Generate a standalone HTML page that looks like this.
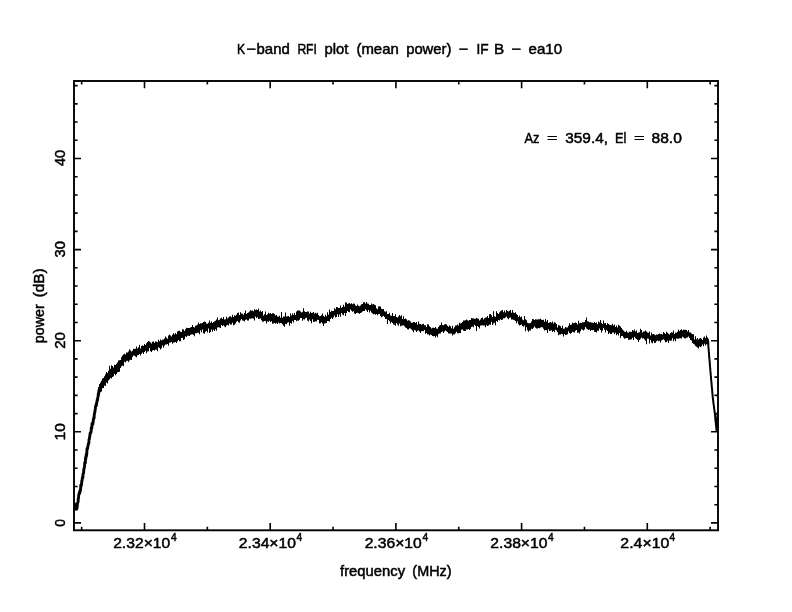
<!DOCTYPE html>
<html><head><meta charset="utf-8"><title>K-band RFI plot</title>
<style>html,body{margin:0;padding:0;background:#fff;overflow:hidden}svg{display:block}text{font-family:"Liberation Sans","DejaVu Sans",sans-serif;fill:#000;stroke:#000;stroke-width:0.5px}</style>
</head><body>
<svg width="792" height="612" viewBox="0 0 792 612">
<rect width="792" height="612" fill="#fff"/>
<polyline fill="none" stroke="#000" stroke-width="2.9" stroke-linejoin="round" points="74.30,504.5 74.55,504.9 74.80,504.4 75.05,504.1 75.30,505.3 75.55,505.1 75.80,507.1 76.05,509.3 76.30,507.5 76.55,507.9 76.80,509.1 77.05,507.5 77.30,505.7 77.55,502.9 77.80,502.7 78.05,502.2 78.30,498.1 78.55,497.8 78.80,494.5 79.05,494.3 79.30,492.5 79.55,493.5 79.80,491.1 80.05,492.0 80.30,490.8 80.55,489.3 80.80,485.2 81.05,486.4 81.30,485.5 81.55,484.2 81.80,480.6 82.05,480.5 82.30,478.3 82.55,477.0 82.80,478.0 83.05,474.0 83.30,473.5 83.55,473.1 83.80,469.7 84.05,468.7 84.30,467.5 84.55,465.9 84.80,462.6 85.05,462.8 85.30,462.9 85.55,457.6 85.80,459.2 86.05,456.7 86.30,454.1 86.55,456.0 86.80,452.8 87.05,448.8 87.30,449.1 87.55,448.5 87.80,446.3 88.05,446.1 88.30,443.9 88.55,443.6 88.80,443.4 89.05,439.4 89.30,439.3 89.55,437.1 89.80,436.7 90.05,433.7 90.30,433.2 90.55,432.6 90.80,432.9 91.05,432.1 91.30,427.8 91.55,427.3 91.80,428.1 92.05,423.5 92.30,424.4 92.55,423.7 92.80,424.3 93.05,422.5 93.30,420.0 93.55,418.7 93.80,417.4 94.05,418.3 94.30,414.4 94.55,413.1 94.80,412.5 95.05,410.5 95.30,409.0 95.55,406.4 95.80,406.5 96.05,404.8 96.30,405.8 96.55,404.0 96.80,402.0 97.05,401.7 97.30,399.3 97.55,400.0 97.80,397.4 98.05,397.2 98.30,393.8 98.55,395.0 98.80,391.5 99.05,390.1 99.30,391.4 99.55,389.7 99.80,390.2"/>
<polygon fill="#000" points="97,393.1 98,393.1 98,387.0 99,387.0 99,383.9 100,383.9 100,382.5 101,382.5 101,380.8 102,380.8 102,378.5 103,378.5 103,378.0 104,378.0 104,376.2 105,376.2 105,374.3 106,374.3 106,372.1 107,372.1 107,373.0 108,373.0 108,370.7 109,370.7 109,365.8 110,365.8 110,368.8 111,368.8 111,365.3 112,365.3 112,366.0 113,366.0 113,367.5 114,367.5 114,364.7 115,364.7 115,365.1 116,365.1 116,363.7 117,363.7 117,362.6 118,362.6 118,360.6 119,360.6 119,360.2 120,360.2 120,359.9 121,359.9 121,357.3 122,357.3 122,355.5 123,355.5 123,354.6 124,354.6 124,353.7 125,353.7 125,354.4 126,354.4 126,352.4 127,352.4 127,352.6 128,352.6 128,351.6 129,351.6 129,349.2 130,349.2 130,350.6 131,350.6 131,351.6 132,351.6 132,350.6 133,350.6 133,348.7 134,348.7 134,349.0 135,349.0 135,348.8 136,348.8 136,346.5 137,346.5 137,348.6 138,348.6 138,347.3 139,347.3 139,344.7 140,344.7 140,348.5 141,348.5 141,346.0 142,346.0 142,345.3 143,345.3 143,345.9 144,345.9 144,344.0 145,344.0 145,344.9 146,344.9 146,343.3 147,343.3 147,342.1 148,342.1 148,341.1 149,341.1 149,341.6 150,341.6 150,342.3 151,342.3 151,343.5 152,343.5 152,341.8 153,341.8 153,341.6 154,341.6 154,342.7 155,342.7 155,341.5 156,341.5 156,341.5 157,341.5 157,342.2 158,342.2 158,339.8 159,339.8 159,341.2 160,341.2 160,339.5 161,339.5 161,340.3 162,340.3 162,339.7 163,339.7 163,339.4 164,339.4 164,338.4 165,338.4 165,336.4 166,336.4 166,337.7 167,337.7 167,338.8 168,338.8 168,335.6 169,335.6 169,334.6 170,334.6 170,335.6 171,335.6 171,336.6 172,336.6 172,334.4 173,334.4 173,333.2 174,333.2 174,334.5 175,334.5 175,332.9 176,332.9 176,334.2 177,334.2 177,331.5 178,331.5 178,330.7 179,330.7 179,330.8 180,330.8 180,331.8 181,331.8 181,331.9 182,331.9 182,329.3 183,329.3 183,329.4 184,329.4 184,330.9 185,330.9 185,329.3 186,329.3 186,327.8 187,327.8 187,328.0 188,328.0 188,327.9 189,327.9 189,328.0 190,328.0 190,327.6 191,327.6 191,327.1 192,327.1 192,324.9 193,324.9 193,326.9 194,326.9 194,327.6 195,327.6 195,325.7 196,325.7 196,325.4 197,325.4 197,324.5 198,324.5 198,322.4 199,322.4 199,324.0 200,324.0 200,323.2 201,323.2 201,323.4 202,323.4 202,323.0 203,323.0 203,322.1 204,322.1 204,321.4 205,321.4 205,321.9 206,321.9 206,323.6 207,323.6 207,323.7 208,323.7 208,322.7 209,322.7 209,320.5 210,320.5 210,322.7 211,322.7 211,321.5 212,321.5 212,322.9 213,322.9 213,322.1 214,322.1 214,321.6 215,321.6 215,320.8 216,320.8 216,319.5 217,319.5 217,317.5 218,317.5 218,320.2 219,320.2 219,319.7 220,319.7 220,318.4 221,318.4 221,317.7 222,317.7 222,319.1 223,319.1 223,317.0 224,317.0 224,319.5 225,319.5 225,319.2 226,319.2 226,316.8 227,316.8 227,318.5 228,318.5 228,317.4 229,317.4 229,316.5 230,316.5 230,316.3 231,316.3 231,317.3 232,317.3 232,314.7 233,314.7 233,317.0 234,317.0 234,315.2 235,315.2 235,315.8 236,315.8 236,314.7 237,314.7 237,313.1 238,313.1 238,312.4 239,312.4 239,315.1 240,315.1 240,312.3 241,312.3 241,313.4 242,313.4 242,313.8 243,313.8 243,314.7 244,314.7 244,312.9 245,312.9 245,310.6 246,310.6 246,313.9 247,313.9 247,313.0 248,313.0 248,312.5 249,312.5 249,311.5 250,311.5 250,310.3 251,310.3 251,310.8 252,310.8 252,310.6 253,310.6 253,311.3 254,311.3 254,309.2 255,309.2 255,309.9 256,309.9 256,309.5 257,309.5 257,310.0 258,310.0 258,308.5 259,308.5 259,311.6 260,311.6 260,310.6 261,310.6 261,312.0 262,312.0 262,311.1 263,311.1 263,315.6 264,315.6 264,314.3 265,314.3 265,311.5 266,311.5 266,315.0 267,315.0 267,314.2 268,314.2 268,312.7 269,312.7 269,313.4 270,313.4 270,313.2 271,313.2 271,314.0 272,314.0 272,313.3 273,313.3 273,313.3 274,313.3 274,313.9 275,313.9 275,315.6 276,315.6 276,315.1 277,315.1 277,316.4 278,316.4 278,316.8 279,316.8 279,315.8 280,315.8 280,317.7 281,317.7 281,312.0 282,312.0 282,317.8 283,317.8 283,316.6 284,316.6 284,316.6 285,316.6 285,312.5 286,312.5 286,316.6 287,316.6 287,316.3 288,316.3 288,315.9 289,315.9 289,316.9 290,316.9 290,313.5 291,313.5 291,315.4 292,315.4 292,313.4 293,313.4 293,314.7 294,314.7 294,312.9 295,312.9 295,315.1 296,315.1 296,311.4 297,311.4 297,310.5 298,310.5 298,310.6 299,310.6 299,310.5 300,310.5 300,311.5 301,311.5 301,312.6 302,312.6 302,311.8 303,311.8 303,308.3 304,308.3 304,311.2 305,311.2 305,311.9 306,311.9 306,312.0 307,312.0 307,311.5 308,311.5 308,311.6 309,311.6 309,313.4 310,313.4 310,311.8 311,311.8 311,313.1 312,313.1 312,312.7 313,312.7 313,312.1 314,312.1 314,313.4 315,313.4 315,312.8 316,312.8 316,313.4 317,313.4 317,312.8 318,312.8 318,315.0 319,315.0 319,316.2 320,316.2 320,316.0 321,316.0 321,315.3 322,315.3 322,313.6 323,313.6 323,315.9 324,315.9 324,316.8 325,316.8 325,314.8 326,314.8 326,316.2 327,316.2 327,312.3 328,312.3 328,314.7 329,314.7 329,309.5 330,309.5 330,312.1 331,312.1 331,310.7 332,310.7 332,310.9 333,310.9 333,311.0 334,311.0 334,308.2 335,308.2 335,309.3 336,309.3 336,307.1 337,307.1 337,307.3 338,307.3 338,307.9 339,307.9 339,307.9 340,307.9 340,305.5 341,305.5 341,307.8 342,307.8 342,306.9 343,306.9 343,304.8 344,304.8 344,306.8 345,306.8 345,302.5 346,302.5 346,302.4 347,302.4 347,304.0 348,304.0 348,303.6 349,303.6 349,303.0 350,303.0 350,304.0 351,304.0 351,303.2 352,303.2 352,304.2 353,304.2 353,303.5 354,303.5 354,303.8 355,303.8 355,305.5 356,305.5 356,305.9 357,305.9 357,304.5 358,304.5 358,305.7 359,305.7 359,306.3 360,306.3 360,305.6 361,305.6 361,304.2 362,304.2 362,304.1 363,304.1 363,302.2 364,302.2 364,302.2 365,302.2 365,303.6 366,303.6 366,302.0 367,302.0 367,303.5 368,303.5 368,303.7 369,303.7 369,304.9 370,304.9 370,305.0 371,305.0 371,303.5 372,303.5 372,304.5 373,304.5 373,304.0 374,304.0 374,304.8 375,304.8 375,305.3 376,305.3 376,308.2 377,308.2 377,309.2 378,309.2 378,306.6 379,306.6 379,306.3 380,306.3 380,306.6 381,306.6 381,308.7 382,308.7 382,309.2 383,309.2 383,308.9 384,308.9 384,311.3 385,311.3 385,311.8 386,311.8 386,311.2 387,311.2 387,313.9 388,313.9 388,314.0 389,314.0 389,312.7 390,312.7 390,315.4 391,315.4 391,315.8 392,315.8 392,313.1 393,313.1 393,315.9 394,315.9 394,315.9 395,315.9 395,314.0 396,314.0 396,316.9 397,316.9 397,317.5 398,317.5 398,316.6 399,316.6 399,315.0 400,315.0 400,316.2 401,316.2 401,315.3 402,315.3 402,318.9 403,318.9 403,316.3 404,316.3 404,319.0 405,319.0 405,318.6 406,318.6 406,319.3 407,319.3 407,320.8 408,320.8 408,320.3 409,320.3 409,320.5 410,320.5 410,321.5 411,321.5 411,322.8 412,322.8 412,322.8 413,322.8 413,322.1 414,322.1 414,322.1 415,322.1 415,323.0 416,323.0 416,321.9 417,321.9 417,324.7 418,324.7 418,321.6 419,321.6 419,323.8 420,323.8 420,324.1 421,324.1 421,324.7 422,324.7 422,324.0 423,324.0 423,323.8 424,323.8 424,325.2 425,325.2 425,325.2 426,325.2 426,327.0 427,327.0 427,324.2 428,324.2 428,324.5 429,324.5 429,326.2 430,326.2 430,327.3 431,327.3 431,328.4 432,328.4 432,327.8 433,327.8 433,327.7 434,327.7 434,327.9 435,327.9 435,327.1 436,327.1 436,328.4 437,328.4 437,328.7 438,328.7 438,327.1 439,327.1 439,325.5 440,325.5 440,324.9 441,324.9 441,322.5 442,322.5 442,325.0 443,325.0 443,325.2 444,325.2 444,324.5 445,324.5 445,324.0 446,324.0 446,324.5 447,324.5 447,325.7 448,325.7 448,326.7 449,326.7 449,325.6 450,325.6 450,326.3 451,326.3 451,328.2 452,328.2 452,325.8 453,325.8 453,328.7 454,328.7 454,327.3 455,327.3 455,325.5 456,325.5 456,325.5 457,325.5 457,324.6 458,324.6 458,325.6 459,325.6 459,322.8 460,322.8 460,323.6 461,323.6 461,323.1 462,323.1 462,322.0 463,322.0 463,320.6 464,320.6 464,320.4 465,320.4 465,320.3 466,320.3 466,319.4 467,319.4 467,320.3 468,320.3 468,320.8 469,320.8 469,320.0 470,320.0 470,319.9 471,319.9 471,318.0 472,318.0 472,318.2 473,318.2 473,318.6 474,318.6 474,318.8 475,318.8 475,318.7 476,318.7 476,317.9 477,317.9 477,318.5 478,318.5 478,318.8 479,318.8 479,320.5 480,320.5 480,319.6 481,319.6 481,318.0 482,318.0 482,317.6 483,317.6 483,319.4 484,319.4 484,318.3 485,318.3 485,317.4 486,317.4 486,317.5 487,317.5 487,316.1 488,316.1 488,317.9 489,317.9 489,314.3 490,314.3 490,313.9 491,313.9 491,315.3 492,315.3 492,316.9 493,316.9 493,311.3 494,311.3 494,316.2 495,316.2 495,316.7 496,316.7 496,311.3 497,311.3 497,312.9 498,312.9 498,314.1 499,314.1 499,312.4 500,312.4 500,311.3 501,311.3 501,310.4 502,310.4 502,310.0 503,310.0 503,312.3 504,312.3 504,310.5 505,310.5 505,312.5 506,312.5 506,310.1 507,310.1 507,311.0 508,311.0 508,311.4 509,311.4 509,310.7 510,310.7 510,310.1 511,310.1 511,312.8 512,312.8 512,310.1 513,310.1 513,312.6 514,312.6 514,313.1 515,313.1 515,312.3 516,312.3 516,314.1 517,314.1 517,315.1 518,315.1 518,317.1 519,317.1 519,315.4 520,315.4 520,317.2 521,317.2 521,316.4 522,316.4 522,319.5 523,319.5 523,320.2 524,320.2 524,316.1 525,316.1 525,319.3 526,319.3 526,320.3 527,320.3 527,322.7 528,322.7 528,323.2 529,323.2 529,323.2 530,323.2 530,322.9 531,322.9 531,321.4 532,321.4 532,319.1 533,319.1 533,319.2 534,319.2 534,320.0 535,320.0 535,319.2 536,319.2 536,319.4 537,319.4 537,319.4 538,319.4 538,319.2 539,319.2 539,319.3 540,319.3 540,318.7 541,318.7 541,319.8 542,319.8 542,320.1 543,320.1 543,319.7 544,319.7 544,321.7 545,321.7 545,318.9 546,318.9 546,321.4 547,321.4 547,319.9 548,319.9 548,322.9 549,322.9 549,322.5 550,322.5 550,322.0 551,322.0 551,322.8 552,322.8 552,321.4 553,321.4 553,323.5 554,323.5 554,322.2 555,322.2 555,322.8 556,322.8 556,324.1 557,324.1 557,327.4 558,327.4 558,325.0 559,325.0 559,325.4 560,325.4 560,326.2 561,326.2 561,328.1 562,328.1 562,325.8 563,325.8 563,328.8 564,328.8 564,328.5 565,328.5 565,326.9 566,326.9 566,327.6 567,327.6 567,327.4 568,327.4 568,325.7 569,325.7 569,323.3 570,323.3 570,324.9 571,324.9 571,324.4 572,324.4 572,322.7 573,322.7 573,323.2 574,323.2 574,323.1 575,323.1 575,322.6 576,322.6 576,322.9 577,322.9 577,324.5 578,324.5 578,320.8 579,320.8 579,323.3 580,323.3 580,322.7 581,322.7 581,323.1 582,323.1 582,322.3 583,322.3 583,322.3 584,322.3 584,322.0 585,322.0 585,320.1 586,320.1 586,317.5 587,317.5 587,321.3 588,321.3 588,321.5 589,321.5 589,322.2 590,322.2 590,322.3 591,322.3 591,322.6 592,322.6 592,322.8 593,322.8 593,323.1 594,323.1 594,322.0 595,322.0 595,323.0 596,323.0 596,322.6 597,322.6 597,324.2 598,324.2 598,321.4 599,321.4 599,322.6 600,322.6 600,320.1 601,320.1 601,322.8 602,322.8 602,324.0 603,324.0 603,320.4 604,320.4 604,323.2 605,323.2 605,323.1 606,323.1 606,325.0 607,325.0 607,322.9 608,322.9 608,324.1 609,324.1 609,324.8 610,324.8 610,325.0 611,325.0 611,325.2 612,325.2 612,323.7 613,323.7 613,325.6 614,325.6 614,324.5 615,324.5 615,327.1 616,327.1 616,325.6 617,325.6 617,327.5 618,327.5 618,324.8 619,324.8 619,325.7 620,325.7 620,326.5 621,326.5 621,328.1 622,328.1 622,329.5 623,329.5 623,330.6 624,330.6 624,331.5 625,331.5 625,331.9 626,331.9 626,330.8 627,330.8 627,332.5 628,332.5 628,332.4 629,332.4 629,331.8 630,331.8 630,331.7 631,331.7 631,332.0 632,332.0 632,330.1 633,330.1 633,330.7 634,330.7 634,329.6 635,329.6 635,331.4 636,331.4 636,330.5 637,330.5 637,333.1 638,333.1 638,332.5 639,332.5 639,332.2 640,332.2 640,328.8 641,328.8 641,330.0 642,330.0 642,332.4 643,332.4 643,331.5 644,331.5 644,331.6 645,331.6 645,330.4 646,330.4 646,331.5 647,331.5 647,332.6 648,332.6 648,332.8 649,332.8 649,331.4 650,331.4 650,335.4 651,335.4 651,332.5 652,332.5 652,334.3 653,334.3 653,333.9 654,333.9 654,334.6 655,334.6 655,335.3 656,335.3 656,334.4 657,334.4 657,334.7 658,334.7 658,334.0 659,334.0 659,333.6 660,333.6 660,334.2 661,334.2 661,334.1 662,334.1 662,334.4 663,334.4 663,332.1 664,332.1 664,333.1 665,333.1 665,334.1 666,334.1 666,331.7 667,331.7 667,332.8 668,332.8 668,333.7 669,333.7 669,334.4 670,334.4 670,332.9 671,332.9 671,332.2 672,332.2 672,332.4 673,332.4 673,330.5 674,330.5 674,333.9 675,333.9 675,332.6 676,332.6 676,332.8 677,332.8 677,331.8 678,331.8 678,329.4 679,329.4 679,331.0 680,331.0 680,330.0 681,330.0 681,329.3 682,329.3 682,330.5 683,330.5 683,329.7 684,329.7 684,329.8 685,329.8 685,329.8 686,329.8 686,330.1 687,330.1 687,331.6 688,331.6 688,330.0 689,330.0 689,332.3 690,332.3 690,332.6 691,332.6 691,333.4 692,333.4 692,334.2 693,334.2 693,334.1 694,334.1 694,339.6 695,339.6 695,336.3 696,336.3 696,339.3 697,339.3 697,338.0 698,338.0 698,339.5 699,339.5 699,338.5 700,338.5 700,337.9 701,337.9 701,338.8 702,338.8 702,340.1 703,340.1 703,337.5 704,337.5 704,336.4 705,336.4 705,338.0 706,338.0 706,335.4 707,335.4 707,337.5 708,337.5 708,344.3 707,344.3 707,344.3 706,344.3 706,345.5 705,345.5 705,343.7 704,343.7 704,346.2 703,346.2 703,344.6 702,344.6 702,346.2 701,346.2 701,346.9 700,346.9 700,346.4 699,346.4 699,348.5 698,348.5 698,347.6 697,347.6 697,346.8 696,346.8 696,346.0 695,346.0 695,344.5 694,344.5 694,343.8 693,343.8 693,342.9 692,342.9 692,340.5 691,340.5 691,339.9 690,339.9 690,338.1 689,338.1 689,336.5 688,336.5 688,337.5 687,337.5 687,337.7 686,337.7 686,338.4 685,338.4 685,338.3 684,338.3 684,337.6 683,337.6 683,336.7 682,336.7 682,338.5 681,338.5 681,338.2 680,338.2 680,338.3 679,338.3 679,338.8 678,338.8 678,338.8 677,338.8 677,338.5 676,338.5 676,341.2 675,341.2 675,339.4 674,339.4 674,341.3 673,341.3 673,338.2 672,338.2 672,340.4 671,340.4 671,340.7 670,340.7 670,340.6 669,340.6 669,343.0 668,343.0 668,340.8 667,340.8 667,342.1 666,342.1 666,342.3 665,342.3 665,340.3 664,340.3 664,339.2 663,339.2 663,339.7 662,339.7 662,340.6 661,340.6 661,342.5 660,342.5 660,340.7 659,340.7 659,341.3 658,341.3 658,340.6 657,340.6 657,341.2 656,341.2 656,342.7 655,342.7 655,343.0 654,343.0 654,340.9 653,340.9 653,343.2 652,343.2 652,342.5 651,342.5 651,339.9 650,339.9 650,343.4 649,343.4 649,338.8 648,338.8 648,338.5 647,338.5 647,344.3 646,344.3 646,340.7 645,340.7 645,339.6 644,339.6 644,338.3 643,338.3 643,338.6 642,338.6 642,337.4 641,337.4 641,338.8 640,338.8 640,340.1 639,340.1 639,342.1 638,342.1 638,340.0 637,340.0 637,339.0 636,339.0 636,338.2 635,338.2 635,336.7 634,336.7 634,340.0 633,340.0 633,337.8 632,337.8 632,339.2 631,339.2 631,339.5 630,339.5 630,339.8 629,339.8 629,339.7 628,339.7 628,338.1 627,338.1 627,338.0 626,338.0 626,338.2 625,338.2 625,338.7 624,338.7 624,337.6 623,337.6 623,335.9 622,335.9 622,336.1 621,336.1 621,338.1 620,338.1 620,332.9 619,332.9 619,335.5 618,335.5 618,334.0 617,334.0 617,335.2 616,335.2 616,332.7 615,332.7 615,334.2 614,334.2 614,332.5 613,332.5 613,332.6 612,332.6 612,334.0 611,334.0 611,334.1 610,334.1 610,332.7 609,332.7 609,333.9 608,333.9 608,331.1 607,331.1 607,330.1 606,330.1 606,332.4 605,332.4 605,329.7 604,329.7 604,328.1 603,328.1 603,330.5 602,330.5 602,332.4 601,332.4 601,330.1 600,330.1 600,328.4 599,328.4 599,330.8 598,330.8 598,330.8 597,330.8 597,332.5 596,332.5 596,332.0 595,332.0 595,331.7 594,331.7 594,330.1 593,330.1 593,330.3 592,330.3 592,330.1 591,330.1 591,331.1 590,331.1 590,329.5 589,329.5 589,330.0 588,330.0 588,329.2 587,329.2 587,328.6 586,328.6 586,327.0 585,327.0 585,329.4 584,329.4 584,330.5 583,330.5 583,329.8 582,329.8 582,329.2 581,329.2 581,331.2 580,331.2 580,333.5 579,333.5 579,332.6 578,332.6 578,332.8 577,332.8 577,329.9 576,329.9 576,330.7 575,330.7 575,332.4 574,332.4 574,332.3 573,332.3 573,331.8 572,331.8 572,333.0 571,333.0 571,333.8 570,333.8 570,333.0 569,333.0 569,331.3 568,331.3 568,334.2 567,334.2 567,334.7 566,334.7 566,335.1 565,335.1 565,334.1 564,334.1 564,336.4 563,336.4 563,334.2 562,334.2 562,333.7 561,333.7 561,334.5 560,334.5 560,334.5 559,334.5 559,335.3 558,335.3 558,332.2 557,332.2 557,330.5 556,330.5 556,329.7 555,329.7 555,332.2 554,332.2 554,330.9 553,330.9 553,331.9 552,331.9 552,330.3 551,330.3 551,330.7 550,330.7 550,331.0 549,331.0 549,329.2 548,329.2 548,332.9 547,332.9 547,330.2 546,330.2 546,330.1 545,330.1 545,330.6 544,330.6 544,328.8 543,328.8 543,327.3 542,327.3 542,327.3 541,327.3 541,327.4 540,327.4 540,328.2 539,328.2 539,328.0 538,328.0 538,328.4 537,328.4 537,328.6 536,328.6 536,327.8 535,327.8 535,326.6 534,326.6 534,327.7 533,327.7 533,328.9 532,328.9 532,328.7 531,328.7 531,330.4 530,330.4 530,330.5 529,330.5 529,331.7 528,331.7 528,330.3 527,330.3 527,327.2 526,327.2 526,331.2 525,331.2 525,325.6 524,325.6 524,326.7 523,326.7 523,326.0 522,326.0 522,324.4 521,324.4 521,325.0 520,325.0 520,325.5 519,325.5 519,324.3 518,324.3 518,321.3 517,321.3 517,323.3 516,323.3 516,321.0 515,321.0 515,320.2 514,320.2 514,319.7 513,319.7 513,319.4 512,319.4 512,319.4 511,319.4 511,317.4 510,317.4 510,317.7 509,317.7 509,319.3 508,319.3 508,318.3 507,318.3 507,316.4 506,316.4 506,317.4 505,317.4 505,318.3 504,318.3 504,318.2 503,318.2 503,319.8 502,319.8 502,320.0 501,320.0 501,319.3 500,319.3 500,320.4 499,320.4 499,320.0 498,320.0 498,322.1 497,322.1 497,320.9 496,320.9 496,325.3 495,325.3 495,322.7 494,322.7 494,323.5 493,323.5 493,324.9 492,324.9 492,321.7 491,321.7 491,324.8 490,324.8 490,324.4 489,324.4 489,325.5 488,325.5 488,325.9 487,325.9 487,325.2 486,325.2 486,327.3 485,327.3 485,325.5 484,325.5 484,325.5 483,325.5 483,325.2 482,325.2 482,325.6 481,325.6 481,325.5 480,325.5 480,328.6 479,328.6 479,327.0 478,327.0 478,326.0 477,326.0 477,331.0 476,331.0 476,326.0 475,326.0 475,324.7 474,324.7 474,327.2 473,327.2 473,326.4 472,326.4 472,327.1 471,327.1 471,328.7 470,328.7 470,330.0 469,330.0 469,329.1 468,329.1 468,329.6 467,329.6 467,329.5 466,329.5 466,331.0 465,331.0 465,330.9 464,330.9 464,330.8 463,330.8 463,329.5 462,329.5 462,329.8 461,329.8 461,333.0 460,333.0 460,333.1 459,333.1 459,333.3 458,333.3 458,333.3 457,333.3 457,331.8 456,331.8 456,333.3 455,333.3 455,334.3 454,334.3 454,334.5 453,334.5 453,335.6 452,335.6 452,333.4 451,333.4 451,333.6 450,333.6 450,333.4 449,333.4 449,333.6 448,333.6 448,332.1 447,332.1 447,331.2 446,331.2 446,330.6 445,330.6 445,331.4 444,331.4 444,333.0 443,333.0 443,331.6 442,331.6 442,332.1 441,332.1 441,333.6 440,333.6 440,333.4 439,333.4 439,333.9 438,333.9 438,337.2 437,337.2 437,335.7 436,335.7 436,337.6 435,337.6 435,335.9 434,335.9 434,336.3 433,336.3 433,336.0 432,336.0 432,334.9 431,334.9 431,334.5 430,334.5 430,335.6 429,335.6 429,334.2 428,334.2 428,334.5 427,334.5 427,333.1 426,333.1 426,333.7 425,333.7 425,330.1 424,330.1 424,331.3 423,331.3 423,331.0 422,331.0 422,331.2 421,331.2 421,333.0 420,333.0 420,331.5 419,331.5 419,330.6 418,330.6 418,330.8 417,330.8 417,332.1 416,332.1 416,330.5 415,330.5 415,329.9 414,329.9 414,332.2 413,332.2 413,330.4 412,330.4 412,329.6 411,329.6 411,328.6 410,328.6 410,328.2 409,328.2 409,329.5 408,329.5 408,329.2 407,329.2 407,328.1 406,328.1 406,327.6 405,327.6 405,326.3 404,326.3 404,325.3 403,325.3 403,325.4 402,325.4 402,325.8 401,325.8 401,326.3 400,326.3 400,323.6 399,323.6 399,325.7 398,325.7 398,324.4 397,324.4 397,323.1 396,323.1 396,325.8 395,325.8 395,324.8 394,324.8 394,324.5 393,324.5 393,323.0 392,323.0 392,322.1 391,322.1 391,323.5 390,323.5 390,321.2 389,321.2 389,320.1 388,320.1 388,324.1 387,324.1 387,319.0 386,319.0 386,319.1 385,319.1 385,316.9 384,316.9 384,316.1 383,316.1 383,316.5 382,316.5 382,317.3 381,317.3 381,316.1 380,316.1 380,313.9 379,313.9 379,313.9 378,313.9 378,315.2 377,315.2 377,314.0 376,314.0 376,314.7 375,314.7 375,314.1 374,314.1 374,314.2 373,314.2 373,313.5 372,313.5 372,312.5 371,312.5 371,310.8 370,310.8 370,312.4 369,312.4 369,309.9 368,309.9 368,312.0 367,312.0 367,310.5 366,310.5 366,309.3 365,309.3 365,310.9 364,310.9 364,310.9 363,310.9 363,311.5 362,311.5 362,312.4 361,312.4 361,312.9 360,312.9 360,313.8 359,313.8 359,313.2 358,313.2 358,312.8 357,312.8 357,313.1 356,313.1 356,313.9 355,313.9 355,313.5 354,313.5 354,311.2 353,311.2 353,311.7 352,311.7 352,310.8 351,310.8 351,309.5 350,309.5 350,312.3 349,312.3 349,312.1 348,312.1 348,311.1 347,311.1 347,312.9 346,312.9 346,316.1 345,316.1 345,313.1 344,313.1 344,315.2 343,315.2 343,314.4 342,314.4 342,313.1 341,313.1 341,316.8 340,316.8 340,314.5 339,314.5 339,316.9 338,316.9 338,314.3 337,314.3 337,316.9 336,316.9 336,317.6 335,317.6 335,315.4 334,315.4 334,317.2 333,317.2 333,319.0 332,319.0 332,317.7 331,317.7 331,319.0 330,319.0 330,321.7 329,321.7 329,321.0 328,321.0 328,320.9 327,320.9 327,322.9 326,322.9 326,323.2 325,323.2 325,323.4 324,323.4 324,326.1 323,326.1 323,323.6 322,323.6 322,322.3 321,322.3 321,323.3 320,323.3 320,323.4 319,323.4 319,320.0 318,320.0 318,319.8 317,319.8 317,321.5 316,321.5 316,321.2 315,321.2 315,321.7 314,321.7 314,322.0 313,322.0 313,319.2 312,319.2 312,323.2 311,323.2 311,321.0 310,321.0 310,319.4 309,319.4 309,321.4 308,321.4 308,320.4 307,320.4 307,317.7 306,317.7 306,318.2 305,318.2 305,319.5 304,319.5 304,319.3 303,319.3 303,320.7 302,320.7 302,318.1 301,318.1 301,317.9 300,317.9 300,319.8 299,319.8 299,320.7 298,320.7 298,320.4 297,320.4 297,321.3 296,321.3 296,319.9 295,319.9 295,320.1 294,320.1 294,322.5 293,322.5 293,321.0 292,321.0 292,323.7 291,323.7 291,323.0 290,323.0 290,325.7 289,325.7 289,322.3 288,322.3 288,322.7 287,322.7 287,324.2 286,324.2 286,323.9 285,323.9 285,326.8 284,326.8 284,325.8 283,325.8 283,324.3 282,324.3 282,323.2 281,323.2 281,323.1 280,323.1 280,323.5 279,323.5 279,322.5 278,322.5 278,324.1 277,324.1 277,323.0 276,323.0 276,323.8 275,323.8 275,323.0 274,323.0 274,323.5 273,323.5 273,323.8 272,323.8 272,321.2 271,321.2 271,321.9 270,321.9 270,320.8 269,320.8 269,321.7 268,321.7 268,321.4 267,321.4 267,323.5 266,323.5 266,321.1 265,321.1 265,321.1 264,321.1 264,321.7 263,321.7 263,321.4 262,321.4 262,320.2 261,320.2 261,318.6 260,318.6 260,318.8 259,318.8 259,319.1 258,319.1 258,317.3 257,317.3 257,318.0 256,318.0 256,316.4 255,316.4 255,320.4 254,320.4 254,318.8 253,318.8 253,318.2 252,318.2 252,318.6 251,318.6 251,318.8 250,318.8 250,318.4 249,318.4 249,320.5 248,320.5 248,320.4 247,320.4 247,319.4 246,319.4 246,319.8 245,319.8 245,321.4 244,321.4 244,320.8 243,320.8 243,320.6 242,320.6 242,318.9 241,318.9 241,320.4 240,320.4 240,322.7 239,322.7 239,322.3 238,322.3 238,321.1 237,321.1 237,321.7 236,321.7 236,323.5 235,323.5 235,324.8 234,324.8 234,325.2 233,325.2 233,322.8 232,322.8 232,324.4 231,324.4 231,324.4 230,324.4 230,323.5 229,323.5 229,325.6 228,325.6 228,325.0 227,325.0 227,325.6 226,325.6 226,327.2 225,327.2 225,326.4 224,326.4 224,325.3 223,325.3 223,325.9 222,325.9 222,324.9 221,324.9 221,327.9 220,327.9 220,327.6 219,327.6 219,327.2 218,327.2 218,327.6 217,327.6 217,330.8 216,330.8 216,329.3 215,329.3 215,331.1 214,331.1 214,329.7 213,329.7 213,331.8 212,331.8 212,329.6 211,329.6 211,332.0 210,332.0 210,332.9 209,332.9 209,328.6 208,328.6 208,332.5 207,332.5 207,331.1 206,331.1 206,331.8 205,331.8 205,333.7 204,333.7 204,333.3 203,333.3 203,329.4 202,329.4 202,332.3 201,332.3 201,330.2 200,330.2 200,334.2 199,334.2 199,332.8 198,332.8 198,332.8 197,332.8 197,333.3 196,333.3 196,333.3 195,333.3 195,336.3 194,336.3 194,335.1 193,335.1 193,334.3 192,334.3 192,334.5 191,334.5 191,334.8 190,334.8 190,336.1 189,336.1 189,335.8 188,335.8 188,335.7 187,335.7 187,337.0 186,337.0 186,336.3 185,336.3 185,339.3 184,339.3 184,339.9 183,339.9 183,338.1 182,338.1 182,337.9 181,337.9 181,341.3 180,341.3 180,341.3 179,341.3 179,340.1 178,340.1 178,341.3 177,341.3 177,342.9 176,342.9 176,341.9 175,341.9 175,342.4 174,342.4 174,342.4 173,342.4 173,343.7 172,343.7 172,342.1 171,342.1 171,342.5 170,342.5 170,342.8 169,342.8 169,345.7 168,345.7 168,343.9 167,343.9 167,344.4 166,344.4 166,344.6 165,344.6 165,345.7 164,345.7 164,347.8 163,347.8 163,345.4 162,345.4 162,348.3 161,348.3 161,349.6 160,349.6 160,348.0 159,348.0 159,347.2 158,347.2 158,351.2 157,351.2 157,349.8 156,349.8 156,349.5 155,349.5 155,350.6 154,350.6 154,350.1 153,350.1 153,350.4 152,350.4 152,351.9 151,351.9 151,351.2 150,351.2 150,347.9 149,347.9 149,351.3 148,351.3 148,351.6 147,351.6 147,353.2 146,353.2 146,350.8 145,350.8 145,352.1 144,352.1 144,354.0 143,354.0 143,352.4 142,352.4 142,353.8 141,353.8 141,355.4 140,355.4 140,354.0 139,354.0 139,354.9 138,354.9 138,355.2 137,355.2 137,357.2 136,357.2 136,356.5 135,356.5 135,355.8 134,355.8 134,355.5 133,355.5 133,357.0 132,357.0 132,360.1 131,360.1 131,359.8 130,359.8 130,360.4 129,360.4 129,361.9 128,361.9 128,360.8 127,360.8 127,360.9 126,360.9 126,362.5 125,362.5 125,361.7 124,361.7 124,366.3 123,366.3 123,365.4 122,365.4 122,366.3 121,366.3 121,368.0 120,368.0 120,371.8 119,371.8 119,372.0 118,372.0 118,372.2 117,372.2 117,374.1 116,374.1 116,375.2 115,375.2 115,373.8 114,373.8 114,376.3 113,376.3 113,377.1 112,377.1 112,378.4 111,378.4 111,378.0 110,378.0 110,379.5 109,379.5 109,380.5 108,380.5 108,383.6 107,383.6 107,382.6 106,382.6 106,386.0 105,386.0 105,385.6 104,385.6 104,387.9 103,387.9 103,388.2 102,388.2 102,391.6 101,391.6 101,392.3 100,392.3 100,394.7 99,394.7 99,397.2 98,397.2 98,403.3 97,403.3"/>
<polyline fill="none" stroke="#000" stroke-width="2.0" stroke-linejoin="round" points="706.00,342.6 706.20,341.2 706.40,340.3 706.60,341.4 706.80,339.7 707.00,341.1 707.20,341.2 707.40,340.5 707.60,341.3 707.80,339.4 708.00,341.7 708.20,341.7 708.40,346.8 708.60,348.8 708.80,351.4 709.00,353.4 709.20,357.2 709.40,358.6 709.60,361.2 709.80,363.2 710.00,366.4 710.20,368.0 710.40,370.9 710.60,372.6 710.80,375.4 711.00,377.5 711.20,380.3 711.40,382.1 711.60,384.1 711.80,386.9 712.00,388.5 712.20,390.9 712.40,393.8 712.60,395.0 712.80,398.3 713.00,399.3 713.20,400.6 713.40,402.6 713.60,404.2 713.80,405.3 714.00,406.9 714.20,408.8 714.40,410.3 714.60,411.5 714.80,413.0 715.00,414.9 715.20,417.0 715.40,419.4 715.60,421.4 715.80,423.2 716.00,425.6 716.20,426.9 716.40,428.9 716.60,430.8 716.80,428.3 717.00,423.4 717.20,420.9 717.40,417.6 717.60,414.0"/>
<rect x="74.0" y="81.0" width="644.0" height="449.29999999999995" fill="none" stroke="#000" stroke-width="1.9"/>
<path fill="none" stroke="#000" stroke-width="1.6" d="M81.65 530.3v-3.6M81.65 81.0v3.6M144.50 530.3v-7.3M144.50 81.0v7.3M207.35 530.3v-3.6M207.35 81.0v3.6M270.20 530.3v-7.3M270.20 81.0v7.3M333.05 530.3v-3.6M333.05 81.0v3.6M395.90 530.3v-7.3M395.90 81.0v7.3M458.75 530.3v-3.6M458.75 81.0v3.6M521.60 530.3v-7.3M521.60 81.0v7.3M584.45 530.3v-3.6M584.45 81.0v3.6M647.30 530.3v-7.3M647.30 81.0v7.3M710.15 530.3v-3.6M710.15 81.0v3.6M74.0 522.90h7.0M718.0 522.90h-7.0M74.0 504.68h3.6M718.0 504.68h-3.6M74.0 486.46h3.6M718.0 486.46h-3.6M74.0 468.24h3.6M718.0 468.24h-3.6M74.0 450.02h3.6M718.0 450.02h-3.6M74.0 431.80h7.0M718.0 431.80h-7.0M74.0 413.58h3.6M718.0 413.58h-3.6M74.0 395.36h3.6M718.0 395.36h-3.6M74.0 377.14h3.6M718.0 377.14h-3.6M74.0 358.92h3.6M718.0 358.92h-3.6M74.0 340.70h7.0M718.0 340.70h-7.0M74.0 322.48h3.6M718.0 322.48h-3.6M74.0 304.26h3.6M718.0 304.26h-3.6M74.0 286.04h3.6M718.0 286.04h-3.6M74.0 267.82h3.6M718.0 267.82h-3.6M74.0 249.60h7.0M718.0 249.60h-7.0M74.0 231.38h3.6M718.0 231.38h-3.6M74.0 213.16h3.6M718.0 213.16h-3.6M74.0 194.94h3.6M718.0 194.94h-3.6M74.0 176.72h3.6M718.0 176.72h-3.6M74.0 158.50h7.0M718.0 158.50h-7.0M74.0 140.28h3.6M718.0 140.28h-3.6M74.0 122.06h3.6M718.0 122.06h-3.6M74.0 103.84h3.6M718.0 103.84h-3.6M74.0 85.62h3.6M718.0 85.62h-3.6"/>
<text x="236.88" y="53.70" font-size="14.80" text-anchor="start" textLength="8.11" lengthAdjust="spacingAndGlyphs" >K</text>
<text x="246.45" y="53.70" font-size="14.80" text-anchor="start" textLength="9.61" lengthAdjust="spacingAndGlyphs" >−</text>
<text x="256.54" y="53.70" font-size="14.80" text-anchor="start" textLength="33.24" lengthAdjust="spacingAndGlyphs" >band</text>
<text x="297.38" y="53.70" font-size="14.80" text-anchor="start" textLength="19.51" lengthAdjust="spacingAndGlyphs" >RFI</text>
<text x="324.55" y="53.70" font-size="14.80" text-anchor="start" textLength="23.91" lengthAdjust="spacingAndGlyphs" >plot</text>
<text x="356.44" y="53.70" font-size="14.80" text-anchor="start" textLength="42.37" lengthAdjust="spacingAndGlyphs" >(mean</text>
<text x="406.15" y="53.70" font-size="14.80" text-anchor="start" textLength="45.29" lengthAdjust="spacingAndGlyphs" >power)</text>
<text x="458.65" y="53.70" font-size="14.80" text-anchor="start" textLength="9.49" lengthAdjust="spacingAndGlyphs" >−</text>
<text x="476.48" y="53.70" font-size="14.80" text-anchor="start" textLength="12.09" lengthAdjust="spacingAndGlyphs" >IF</text>
<text x="493.97" y="53.70" font-size="14.80" text-anchor="start" textLength="10.17" lengthAdjust="spacingAndGlyphs" >B</text>
<text x="511.45" y="53.70" font-size="14.80" text-anchor="start" textLength="9.61" lengthAdjust="spacingAndGlyphs" >−</text>
<text x="528.59" y="53.70" font-size="14.80" text-anchor="start" textLength="33.54" lengthAdjust="spacingAndGlyphs" >ea10</text>
<text x="524.42" y="143.30" font-size="14.80" text-anchor="start" textLength="14.94" lengthAdjust="spacingAndGlyphs" >Az</text>
<g transform="translate(0,138.70) scale(1,0.72) translate(0,-138.70)"><text x="547.09" y="143.30" font-size="14.80" text-anchor="start" textLength="10.50" lengthAdjust="spacingAndGlyphs" >=</text></g>
<text x="565.24" y="143.30" font-size="14.80" text-anchor="start" textLength="42.74" lengthAdjust="spacingAndGlyphs" >359.4,</text>
<text x="615.04" y="143.30" font-size="14.80" text-anchor="start" textLength="11.34" lengthAdjust="spacingAndGlyphs" >El</text>
<g transform="translate(0,138.70) scale(1,0.72) translate(0,-138.70)"><text x="633.89" y="143.30" font-size="14.80" text-anchor="start" textLength="10.61" lengthAdjust="spacingAndGlyphs" >=</text></g>
<text x="651.47" y="143.30" font-size="14.80" text-anchor="start" textLength="30.36" lengthAdjust="spacingAndGlyphs" >88.0</text>
<text x="340.10" y="575.70" font-size="14.80" text-anchor="start" textLength="64.93" lengthAdjust="spacingAndGlyphs" >frequency</text>
<text x="412.37" y="575.70" font-size="14.80" text-anchor="start" textLength="39.17" lengthAdjust="spacingAndGlyphs" >(MHz)</text>
<g transform="translate(43.80,343.22) rotate(-90)"><text x="0.00" y="0.00" font-size="14.80" text-anchor="start" textLength="38.88" lengthAdjust="spacingAndGlyphs" >power</text></g>
<g transform="translate(43.80,297.28) rotate(-90)"><text x="0.00" y="0.00" font-size="14.80" text-anchor="start" textLength="28.92" lengthAdjust="spacingAndGlyphs" >(dB)</text></g>
<text x="113.17" y="547.80" font-size="14.80" text-anchor="start" textLength="57.06" lengthAdjust="spacingAndGlyphs" >2.32×10</text>
<text x="170.90" y="541.00" font-size="11.20" text-anchor="start" textLength="5.69" lengthAdjust="spacingAndGlyphs" >4</text>
<text x="238.87" y="547.80" font-size="14.80" text-anchor="start" textLength="57.06" lengthAdjust="spacingAndGlyphs" >2.34×10</text>
<text x="296.60" y="541.00" font-size="11.20" text-anchor="start" textLength="5.69" lengthAdjust="spacingAndGlyphs" >4</text>
<text x="364.67" y="547.80" font-size="14.80" text-anchor="start" textLength="57.06" lengthAdjust="spacingAndGlyphs" >2.36×10</text>
<text x="422.40" y="541.00" font-size="11.20" text-anchor="start" textLength="5.69" lengthAdjust="spacingAndGlyphs" >4</text>
<text x="490.37" y="547.80" font-size="14.80" text-anchor="start" textLength="57.06" lengthAdjust="spacingAndGlyphs" >2.38×10</text>
<text x="548.10" y="541.00" font-size="11.20" text-anchor="start" textLength="5.69" lengthAdjust="spacingAndGlyphs" >4</text>
<text x="620.36" y="547.80" font-size="14.80" text-anchor="start" textLength="48.89" lengthAdjust="spacingAndGlyphs" >2.4×10</text>
<text x="669.40" y="541.00" font-size="11.20" text-anchor="start" textLength="5.59" lengthAdjust="spacingAndGlyphs" >4</text>
<g transform="translate(64.80,526.73) rotate(-90)"><text x="0.00" y="0.00" font-size="14.80" text-anchor="start" textLength="7.65" lengthAdjust="spacingAndGlyphs" >0</text></g>
<g transform="translate(64.80,440.45) rotate(-90)"><text x="0.00" y="0.00" font-size="14.80" text-anchor="start" textLength="17.28" lengthAdjust="spacingAndGlyphs" >10</text></g>
<g transform="translate(64.80,348.81) rotate(-90)"><text x="0.00" y="0.00" font-size="14.80" text-anchor="start" textLength="16.73" lengthAdjust="spacingAndGlyphs" >20</text></g>
<g transform="translate(64.80,257.45) rotate(-90)"><text x="0.00" y="0.00" font-size="14.80" text-anchor="start" textLength="16.47" lengthAdjust="spacingAndGlyphs" >30</text></g>
<g transform="translate(64.80,166.10) rotate(-90)"><text x="0.00" y="0.00" font-size="14.80" text-anchor="start" textLength="16.22" lengthAdjust="spacingAndGlyphs" >40</text></g>
</svg>
</body></html>
